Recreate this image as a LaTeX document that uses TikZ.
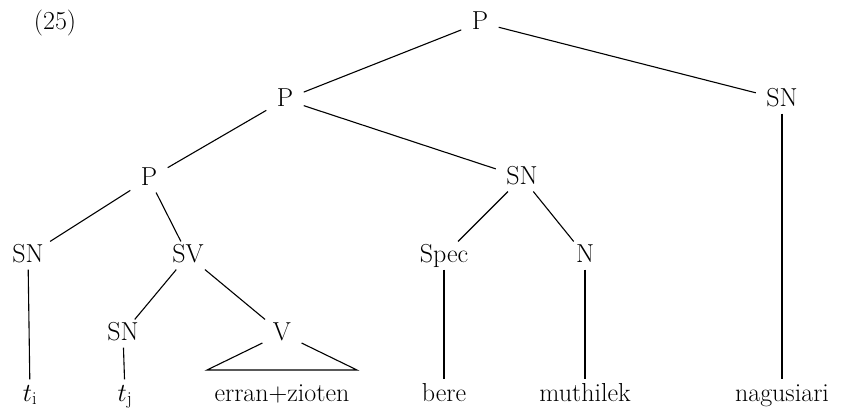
\documentclass[tikz,border=0pt]{standalone}
\usepackage{fix-cm}
\usepackage{fontspec}
\begin{document}
\begin{tikzpicture}[x=1pt, y=-1pt, line width=1.1pt,
          cat/.style={font=\fontsize{26}{30}\selectfont, anchor=base, inner xsep=10pt, inner ysep=3pt, text height=17pt, text depth=4pt},
          word/.style={font=\fontsize{26}{30}\selectfont, anchor=base, inner xsep=3pt, inner ysep=3pt, text height=18pt, text depth=4pt}]
          \useasboundingbox (0,0) rectangle (842,410);
          \node[font=\fontsize{26}{30}\selectfont, anchor=base] (exnum) at (55,29) {(25)};
          % categories
          \node[cat] (P0) at (480,29) {P};
          \node[cat] (P1) at (285,106) {P};
          \node[cat] (SNr) at (782,106) {SN};
          \node[cat] (P2) at (149,185) {P};
          \node[cat] (SNm) at (522,184) {SN};
          \node[cat] (SNa) at (28,262) {SN};
          \node[cat] (SV) at (188,262) {SV};
          \node[cat] (Spec) at (444,262) {Spec};
          \node[cat] (N) at (585,262) {N};
          \node[cat] (SNb) at (123,340) {SN};
          \node[cat] (V) at (282,340) {V};
          % words
          \node[word] (ti) at (30,401) {$t_{\mathrm{i}}$};
          \node[word] (tj) at (125,401) {$t_{\mathrm{j}}$};
          \node[word] (erran) at (282,401) {erran+zioten};
          \node[word] (bere) at (444,401) {bere};
          \node[word] (muthilek) at (585,401) {muthilek};
          \node[word] (nagusiari) at (782,401) {nagusiari};
          \coordinate (triL) at (207,370);
          \coordinate (triR) at (357,370);
          % branches
          \draw (P0) -- (P1);
          \draw (P0) -- (SNr);
          \draw (P1) -- (P2);
          \draw (P1) -- (SNm);
          \draw (P2) -- (SNa);
          \draw (P2) -- (SV);
          \draw (SNm) -- (Spec);
          \draw (SNm) -- (N);
          \draw (SV) -- (SNb);
          \draw (SV) -- (V);
          \draw (SNa) -- (ti);
          \draw (SNb) -- (tj);
          \draw (Spec) -- (bere);
          \draw (N) -- (muthilek);
          \draw (SNr) -- (nagusiari);
          \draw (V) -- (triL) -- (triR) -- (V);
\end{tikzpicture}
\end{document}
